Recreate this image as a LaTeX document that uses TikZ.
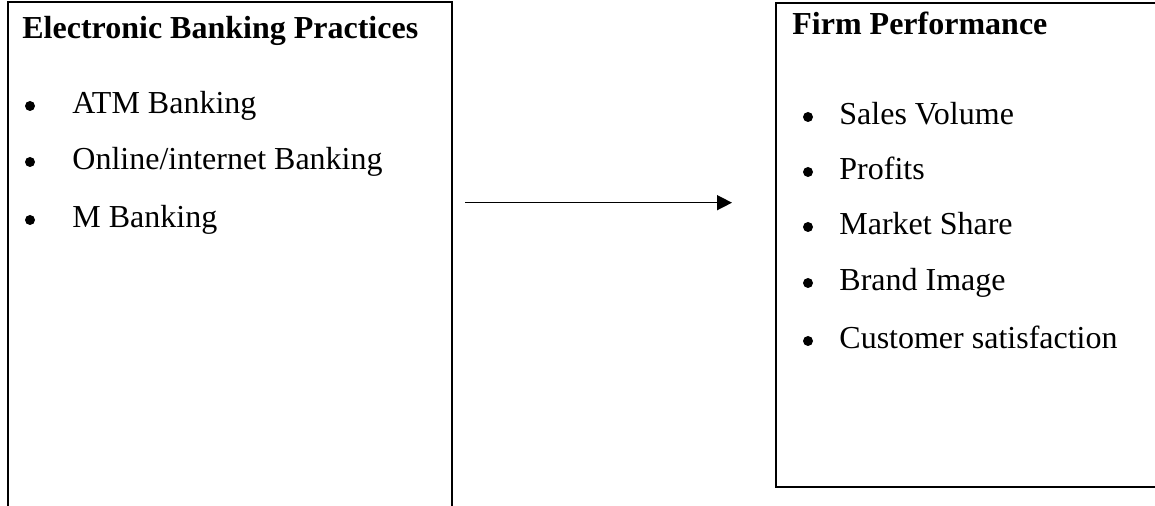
\documentclass[tikz,border=0pt]{standalone}
\usepackage{fontspec}
\setmainfont{Liberation Serif}
\usetikzlibrary{arrows.meta,fit}

\begin{document}
\begin{tikzpicture}[x=0.5pt,y=-0.5pt]
	\tikzstyle{box}=[draw=black,line width=1pt,inner sep=0pt]
	\tikzstyle{heading}=[anchor=base west,inner sep=0pt,font=\fontsize{16}{19}\selectfont\bfseries]
	\tikzstyle{item}=[anchor=base west,inner sep=0pt,font=\fontsize{16}{19}\selectfont]
	\tikzstyle{dot}=[circle,fill=black,inner sep=0pt,minimum size=5pt]
	\useasboundingbox (0,0) rectangle (1155,506);
	\clip (0,0) rectangle (1155,506);
	% the two boxes
	\coordinate (ebp nw) at (8,2);
	\coordinate (ebp se) at (452,560);
	\coordinate (fp nw) at (776,3.5);
	\coordinate (fp se) at (1200,487);
	\node[box,fit=(ebp nw)(ebp se)](ebp) {};
	\node[box,fit=(fp nw)(fp se)](fp) {};
	% headings
	\node[heading](ebp title) at (22,39) {Electronic Banking Practices};
	\node[heading](fp title) at (792,35) {Firm Performance};
	% left list
	\foreach \y/\t [count=\i] in {114/{ATM Banking},170/{Online/internet Banking},228/{M Banking}}{
		\node[dot](ebp dot\i) at (30,\y-8) {};
		\node[item](ebp item\i) at (72,\y) {\t};
	}
	% right list
	\foreach \y/\t [count=\i] in {125/{Sales Volume},180/{Profits},235/{Market Share},291/{Brand Image},349/{Customer satisfaction}}{
		\node[dot](fp dot\i) at (808,\y-8) {};
		\node[item](fp item\i) at (839,\y) {\t};
	}
	% connector
	\coordinate (mid) at (600,202.7);
	\draw[-{Triangle[length=7.5pt,width=7.5pt]},line width=0.75pt,shorten <=6pt,shorten >=21.5pt] (ebp.east |- mid) to (fp.west |- mid);
\end{tikzpicture}
\end{document}
